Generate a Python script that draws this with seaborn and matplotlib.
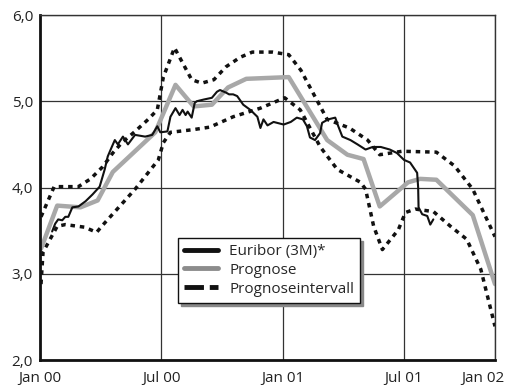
import matplotlib
matplotlib.use("Agg")
import matplotlib.pyplot as plt
import matplotlib.transforms as mtransforms
from matplotlib.lines import Line2D
import seaborn as sns

# x positions in months since Jan 2000
euribor_x = [0.6, 0.75, 0.9, 1.1, 1.25, 1.4, 1.6, 1.9, 2.25, 2.6, 2.95, 3.2, 3.35, 3.55, 3.7,
             3.85, 4.1, 4.35, 4.7, 5.2, 5.55, 5.8, 5.95, 6.3, 6.45, 6.7, 6.9, 7.05, 7.2, 7.3,
             7.5, 7.65, 7.75, 8.1, 8.5, 8.75, 8.9, 9.2, 9.35, 9.55, 9.75, 10.05, 10.4, 10.75,
             10.9, 11.05, 11.25, 11.55, 12.05, 12.4, 12.7, 13.0, 13.2, 13.35, 13.6, 13.85,
             13.95, 14.25, 14.6, 14.75, 14.95, 15.35, 15.7, 16.1, 16.45, 16.85, 17.3, 17.65,
             18.0, 18.3, 18.65, 18.7, 18.72, 18.9, 19.15, 19.3, 19.45]
euribor_y = [3.49, 3.58, 3.63, 3.62, 3.66, 3.66, 3.77, 3.78, 3.84, 3.92, 4.01, 4.21, 4.36, 4.47, 4.55,
             4.50, 4.59, 4.50, 4.61, 4.59, 4.61, 4.71, 4.64, 4.65, 4.82, 4.92, 4.84, 4.90, 4.84, 4.88,
             4.81, 4.98, 5.00, 5.02, 5.04, 5.11, 5.13, 5.10, 5.08, 5.08, 5.06, 4.96, 4.90, 4.82,
             4.69, 4.79, 4.72, 4.76, 4.73, 4.76, 4.81, 4.79, 4.71, 4.58, 4.55, 4.63,
             4.75, 4.79, 4.81, 4.71, 4.59, 4.55, 4.50, 4.44, 4.47, 4.47, 4.44, 4.40,
             4.32, 4.29, 4.17, 4.00, 3.77, 3.69, 3.67, 3.57, 3.63]

prognose_x = [0.05, 0.85, 2.0, 2.85, 3.6, 5.7, 6.7, 7.6, 8.5, 9.3, 10.2, 12.3, 14.2, 15.2,
              16.0, 16.8, 18.2, 18.8, 19.6, 21.4, 22.5]
prognose_y = [3.29, 3.79, 3.77, 3.85, 4.18, 4.64, 5.19, 4.94, 4.96, 5.16, 5.26, 5.28, 4.55, 4.38,
              4.33, 3.78, 4.06, 4.10, 4.09, 3.68, 2.88]

upper_x = [0.05, 0.7, 1.9, 2.5, 3.1, 3.6, 4.05, 4.7, 5.35, 5.8, 6.1, 6.65, 7.5, 8.0, 8.6, 9.2,
           9.9, 10.5, 11.5, 12.3, 12.9, 14.2, 15.3, 16.2, 16.8, 17.9, 19.6, 20.5, 21.4, 22.5]
upper_y = [3.66, 4.01, 4.01, 4.10, 4.24, 4.40, 4.52, 4.65, 4.79, 4.90, 5.28, 5.62, 5.25, 5.21, 5.25, 5.40,
           5.51, 5.57, 5.57, 5.54, 5.36, 4.79, 4.69, 4.55, 4.38, 4.42, 4.41, 4.25, 3.98, 3.43]

lower_x = [0.05, 0.15, 0.85, 1.25, 2.2, 2.8, 3.05, 4.7, 5.85, 6.1, 6.45, 7.55, 8.4, 9.55, 10.9,
           12.1, 12.87, 13.86, 14.7, 15.85, 16.1, 16.5, 16.93, 17.72, 18.07, 18.56, 19.46, 20.3,
           21.1, 21.8, 22.5]
lower_y = [2.88, 3.25, 3.55, 3.57, 3.54, 3.48, 3.55, 3.98, 4.32, 4.52, 4.64, 4.67, 4.70, 4.82, 4.92,
           5.04, 4.90, 4.47, 4.21, 4.06, 3.98, 3.55, 3.28, 3.51, 3.71, 3.75, 3.72, 3.55,
           3.40, 3.05, 2.39]

x_ticks = [0, 6, 12, 18, 22.5]
x_labels = ["Jan 00", "Jul 00", "Jan 01", "Jul 01", "Jan 02"]
y_ticks = [2, 3, 4, 5, 6]
y_labels = ["2,0", "3,0", "4,0", "5,0", "6,0"]
legend_labels = ["Euribor (3M)*", "Prognose", "Prognoseintervall"]

sns.set_style("white")
plt.rcParams["font.family"] = ["Open Sans", "DejaVu Sans"]

fig = plt.figure(figsize=(5.07, 3.9), dpi=100)
ax = fig.add_axes([40 / 507, 1 - 360 / 390, 455 / 507, 345 / 390])

band_style = dict(color="#111111", linewidth=2.5, dashes=(1.3, 1.4))
sns.lineplot(x=upper_x, y=upper_y, ax=ax, **band_style)
sns.lineplot(x=lower_x, y=lower_y, ax=ax, **band_style)
sns.lineplot(x=prognose_x, y=prognose_y, ax=ax, color="#a8a8a8", linewidth=3.2)
sns.lineplot(x=euribor_x, y=euribor_y, ax=ax, color="#111111", linewidth=1.5)

ax.set_xlim(0, 22.5)
ax.set_ylim(2, 6)
ax.set_xticks(x_ticks)
ax.set_xticklabels(x_labels, fontsize=11, color="#222222")
ax.set_yticks(y_ticks)
ax.set_yticklabels(y_labels, fontsize=11, color="#222222")
ax.tick_params(length=0)
ax.tick_params(axis="y", pad=5)
ax.tick_params(axis="x", pad=8)
last = ax.get_xticklabels()[-1]
last.set_transform(last.get_transform() + mtransforms.ScaledTranslation(-12 / 100, 0, fig.dpi_scale_trans))

ax.grid(True, color="#333333", linewidth=0.9)
ax.set_axisbelow(True)
for side in ["left", "bottom"]:
    ax.spines[side].set_linewidth(2)
    ax.spines[side].set_color("#111111")
for side in ["top", "right"]:
    ax.spines[side].set_linewidth(1)
    ax.spines[side].set_color("#333333")

handles = [
    Line2D([], [], color="#111111", linewidth=3.5),
    Line2D([], [], color="#8c8c8c", linewidth=3.5),
    Line2D([], [], color="#111111", linewidth=3.5, dashes=(4, 1.2)),
]
leg = ax.legend(handles, legend_labels, loc="upper left", bbox_to_anchor=(0.303, 0.354),
                fontsize=11, frameon=True, fancybox=False, handlelength=2.2,
                handletextpad=0.75, labelspacing=0.25, borderpad=0.4, borderaxespad=0,
                shadow={"color": "#888888", "alpha": 1})
leg.get_frame().set_edgecolor("#111111")
leg.get_frame().set_linewidth(1)
leg.get_frame().set_facecolor("white")
leg.get_frame().set_alpha(1)

fig.savefig("out.png", dpi=100)
